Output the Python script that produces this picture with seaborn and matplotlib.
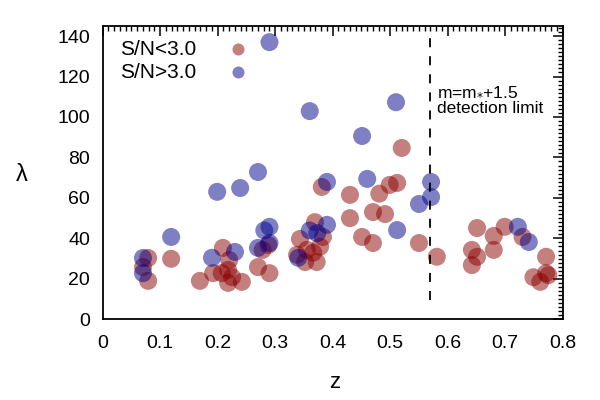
import numpy as np
import pandas as pd
import matplotlib
matplotlib.use("Agg")
import matplotlib.pyplot as plt
from matplotlib.ticker import MultipleLocator
import seaborn as sns

sns.set_style("white")
plt.rcParams['font.family'] = ['Liberation Sans', 'DejaVu Sans']
plt.rcParams.update({"text.color": "black", "axes.labelcolor": "black",
                     "xtick.color": "black", "ytick.color": "black"})

# S/N < 3.0 clusters
z_low = [0.079, 0.079, 0.070, 0.119, 0.169, 0.209, 0.192, 0.207, 0.218, 0.225,
         0.218, 0.242, 0.220, 0.270, 0.290, 0.278, 0.288, 0.343, 0.338, 0.352,
         0.372, 0.355, 0.366, 0.378, 0.369, 0.383, 0.381, 0.430, 0.430, 0.451,
         0.470, 0.470, 0.491, 0.481, 0.499, 0.512, 0.550, 0.581, 0.520, 0.651,
         0.642, 0.642, 0.651, 0.680, 0.680, 0.699, 0.730, 0.771, 0.749, 0.761,
         0.771, 0.775]
lam_low = [30.3, 19.0, 25.8, 29.9, 19.0, 35.3, 22.8, 22.8, 24.4, 20.8,
           18.0, 18.5, 29.3, 25.8, 22.8, 34.3, 36.7, 39.7, 31.9, 28.3,
           28.3, 34.3, 32.9, 35.9, 48.0, 40.7, 65.4, 61.5, 50.0, 40.7,
           37.7, 53.0, 52.0, 62.1, 66.4, 67.4, 37.7, 30.9, 84.7, 45.1,
           34.3, 26.8, 30.9, 41.2, 34.3, 45.7, 40.7, 30.9, 20.8, 18.5,
           22.8, 21.8]

# S/N > 3.0 clusters
z_high = [0.290, 0.360, 0.510, 0.451, 0.270, 0.199, 0.239, 0.119, 0.070, 0.070,
          0.190, 0.230, 0.281, 0.290, 0.270, 0.290, 0.390, 0.340, 0.360, 0.373,
          0.390, 0.460, 0.512, 0.571, 0.571, 0.550, 0.722, 0.741]
lam_high = [137.0, 102.9, 107.3, 90.6, 72.8, 63.0, 64.9, 40.7, 30.3, 22.8,
            30.4, 33.3, 43.9, 45.7, 35.3, 37.7, 67.9, 30.4, 43.9, 42.6,
            46.7, 69.4, 44.1, 67.9, 60.4, 57.0, 45.7, 38.2]

z_limit = 0.570

df = pd.DataFrame({
    "z": z_low + z_high,
    "lam": lam_low + lam_high,
    "sn": ["S/N<3.0"] * len(z_low) + ["S/N>3.0"] * len(z_high),
})

fig = plt.figure(figsize=(6, 4), dpi=100)
ax = fig.add_axes([0.1712, 0.2018, 0.7667, 0.7333])

sns.scatterplot(data=df, x="z", y="lam", hue="sn",
                palette={"S/N<3.0": "#8b0000", "S/N>3.0": "#00008b"},
                s=168, alpha=0.5, linewidth=0, ax=ax, legend=False)

ax.vlines(z_limit, 9.5, 139, color="black", linestyle=(0, (5, 5)), linewidth=1.3)
ax.text(z_limit + 0.011, 110.9, "m=m$_{*}$+1.5", fontsize=12.5, va="baseline", ha="left")
ax.text(z_limit + 0.011, 101.8, "detection limit", fontsize=12.5, va="baseline", ha="left")

# legend: text then marker
ax.text(0.030, 133.6, "S/N<3.0", fontsize=15, va="center")
ax.text(0.030, 122.0, "S/N>3.0", fontsize=15, va="center")
ax.scatter([0.235], [133.8], s=75, color="#8b0000", alpha=0.5, linewidth=0)
ax.scatter([0.235], [122.2], s=75, color="#00008b", alpha=0.5, linewidth=0)

ax.set_xlim(0, 0.8)
ax.set_ylim(0, 145)
ax.set_xticks(np.arange(0, 0.81, 0.1))
ax.set_xticklabels(["0", "0.1", "0.2", "0.3", "0.4", "0.5", "0.6", "0.7", "0.8"])
ax.xaxis.set_minor_locator(MultipleLocator(0.01))
ax.set_yticks(np.arange(0, 141, 20))
ax.yaxis.set_minor_locator(MultipleLocator(2))
ax.tick_params(which="both", direction="in", top=True, right=True, labelsize=14, color="black")
ax.tick_params(which="major", length=7, width=1.1)
ax.tick_params(which="minor", length=3.5, width=1.0)
ax.tick_params(axis="x", which="major", pad=11)
ax.tick_params(axis="y", which="major", pad=9)
for sp in ax.spines.values():
    sp.set_color("black")
    sp.set_linewidth(1.3)

ax.set_xlabel("z", fontsize=16, va="center")
ax.set_ylabel("λ", fontsize=17, rotation=0, va="center", ha="center")
ax.xaxis.set_label_coords(0.505, -0.217)
ax.yaxis.set_label_coords(-0.175, 0.492)

fig.savefig("out.png", dpi=100)
